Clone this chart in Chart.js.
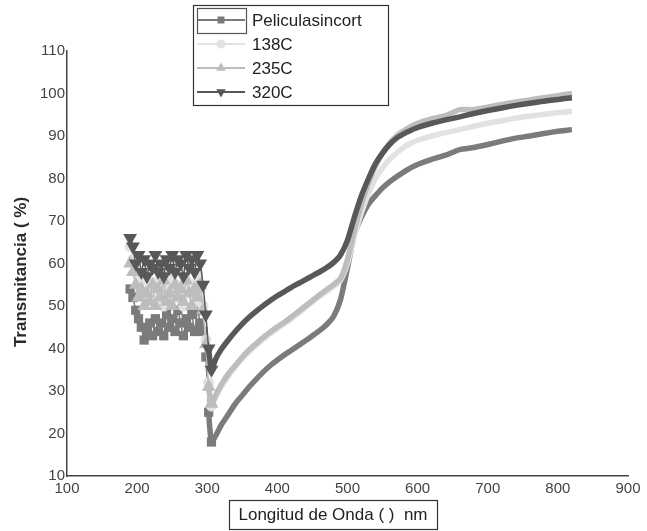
<!DOCTYPE html>
<html>
<head>
<meta charset="utf-8">
<script src="https://cdn.jsdelivr.net/npm/chart.js@4.4.1/dist/chart.umd.min.js"></script>
<style>
  html, body { margin: 0; padding: 0; background: #fff; }
  #wrap { position: relative; width: 647px; height: 531px; }
</style>
</head>
<body>
<div id="wrap"><canvas id="chart" width="647" height="531"></canvas></div>
<script>
// wavelength (nm)
const wavelengths = [190,194,198,202,206,210,214,218,222,226,230,234,238,242,246,250,254,258,262,266,270,274,278,282,286,290,294,298,
  302,306,312,320,330,340,350,360,370,380,390,400,410,420,430,440,450,460,470,480,490,500,510,520,530,540,550,560,570,580,590,600,
  620,640,660,680,700,720,740,760,780,800,820];

const peliculaSinCort = [54,52,49,47,45,42,44,46,43,47,44,46,43,48,45,47,44,49,46,43,47,45,48,44,49,46,44,38,
  25,18,19.5,22,24.5,27,29,31,32.8,34.5,36,37.3,38.5,39.6,40.7,41.8,43,44.2,45.6,47.5,51.5,59,67,71,74,76,77.8,79.2,80.4,81.5,82.5,83.3,
  84.5,85.5,86.8,87.3,88,88.8,89.5,90,90.6,91.1,91.5];

const c138 = [64,61,58,55,57,52,56,53,55,51,56,54,50,55,53,57,52,55,54,50,56,53,55,51,57,54,50,42,
  32,26.5,28.5,31,33.5,35.7,37.6,39.3,40.8,42.2,43.5,44.7,45.8,47,48.3,49.6,50.9,52.2,53.4,54.6,56,60,66.5,72,76.5,80,82.5,84.5,86,87.3,88.3,89,
  90,90.8,91.5,92.3,93,93.6,94.2,94.7,95.1,95.5,95.8];

const c235 = [60,58,55,52,54,50,53,51,55,50,54,52,56,51,53,50,55,52,54,51,56,53,50,54,52,55,49,41,
  31,27,29,31.5,34,36,38,39.7,41.2,42.6,43.9,45.1,46.2,47.4,48.7,50,51.3,52.6,53.8,55,56.5,61,68,74,79,83,86,88.3,90,91.2,92.2,93,
  94,94.8,96.2,96.2,96.8,97.4,98,98.5,99,99.5,100];

const c320 = [66,64,60,62,58,61,57,60,59,62,58,60,57,61,59,62,58,61,60,57,62,59,61,58,62,60,55,48,
  40,35,37.5,39.8,42,44,45.8,47.4,48.8,50.1,51.3,52.4,53.4,54.4,55.3,56.2,57.1,58,59,60.2,62,65.5,71,76,80,83.5,86,88,89.5,90.5,91.3,92,
  93,93.8,94.5,95.3,96,96.6,97.2,97.7,98.2,98.6,99];

const xTicks = [100,200,300,400,500,600,700,800,900];
const yTicks = [10,20,30,40,50,60,70,80,90,100,110];

const seriesLabels = ['Peliculasincort', '138C', '235C', '320C'];
const seriesValues = [peliculaSinCort, c138, c235, c320];
const seriesColors = ['#7b7b7b', '#e2e2e2', '#bdbdbd', '#585858'];
const seriesMarkers = ['rect', 'circle', 'triangle', 'triangle'];
const seriesRotation = [0, 0, 0, 180];
const seriesOrder = [3, 2, 1, 0];

const FONT = "'Liberation Sans', Arial, sans-serif";

// noisy part below 300 nm: thin line with markers, the rest a thick smooth band
const datasets = seriesLabels.map((label, i) => ({
  label: label,
  data: wavelengths.map((w, j) => ({ x: w, y: seriesValues[i][j] })),
  borderColor: seriesColors[i],
  backgroundColor: seriesColors[i],
  borderWidth: 5,
  segment: { borderWidth: c => c.p0.parsed.x < 300 ? 1.5 : 5.5 },
  pointRadius: c => (c.raw && c.raw.x < 310) ? 3 : 0,
  pointStyle: seriesMarkers[i],
  rotation: seriesRotation[i],
  showLine: true,
  tension: 0.2,
  order: seriesOrder[i]
}));

// legend box + axis titles, drawn on canvas
const decorations = {
  id: 'decorations',
  afterDraw(chart) {
    const ctx = chart.ctx;
    ctx.save();

    // legend
    ctx.fillStyle = '#fff';
    ctx.fillRect(193, 5, 195, 100);
    ctx.strokeStyle = '#333';
    ctx.lineWidth = 1.2;
    ctx.strokeRect(193.5, 5.5, 195, 100);
    ctx.font = '17px ' + FONT;
    ctx.textBaseline = 'middle';
    const rows = [20, 44, 68, 92];
    seriesLabels.forEach((label, i) => {
      const y = rows[i];
      ctx.strokeStyle = seriesColors[i];
      ctx.lineWidth = 2;
      ctx.beginPath();
      ctx.moveTo(197, y);
      ctx.lineTo(245, y);
      ctx.stroke();
      Chart.helpers.drawPoint(ctx, {
        pointStyle: seriesMarkers[i],
        rotation: seriesRotation[i],
        radius: 3.5,
        borderWidth: 1
      }, 221, y);
      ctx.fillStyle = seriesColors[i];
      ctx.fill();
      ctx.fillStyle = '#222';
      ctx.fillText(label, 252, y + 1);
    });
    ctx.strokeStyle = '#555';
    ctx.lineWidth = 1.2;
    ctx.strokeRect(197.5, 8.5, 49, 25);

    // y title
    ctx.save();
    ctx.translate(21, 272);
    ctx.rotate(-Math.PI / 2);
    ctx.font = 'bold 17px ' + FONT;
    ctx.fillStyle = '#2a2a2a';
    ctx.textAlign = 'center';
    ctx.fillText('Transmitancia ( %)', 0, 0);
    ctx.restore();

    // x title with box
    ctx.font = '17px ' + FONT;
    ctx.textAlign = 'center';
    ctx.fillStyle = '#222';
    ctx.fillText('Longitud de Onda ( )  nm', 333, 515);
    ctx.strokeStyle = '#333';
    ctx.lineWidth = 1.2;
    ctx.strokeRect(229.5, 500.5, 208, 29);

    ctx.restore();
  }
};

new Chart(document.getElementById('chart'), {
  type: 'scatter',
  data: { datasets: datasets },
  options: {
    responsive: false,
    animation: false,
    layout: { padding: { top: 51, right: 19, bottom: 0, left: 0 } },
    plugins: {
      legend: { display: false },
      tooltip: { enabled: false }
    },
    scales: {
      x: {
        type: 'linear',
        min: 100,
        max: 900,
        afterBuildTicks: axis => { axis.ticks = xTicks.map(v => ({ value: v })); },
        afterFit: axis => { axis.height = 55; },
        grid: { display: false, drawTicks: false },
        border: { display: true, color: '#444', width: 1.5 },
        ticks: { color: '#444', font: { family: FONT, size: 15 }, padding: 4, maxRotation: 0 }
      },
      y: {
        min: 10,
        max: 110,
        afterBuildTicks: axis => { axis.ticks = yTicks.map(v => ({ value: v })); },
        afterFit: axis => { axis.width = 67; },
        grid: { display: false, drawTicks: false },
        border: { display: true, color: '#444', width: 1.5 },
        ticks: { color: '#444', font: { family: FONT, size: 15 }, padding: 2 }
      }
    }
  },
  plugins: [decorations]
});
</script>
</body>
</html>
